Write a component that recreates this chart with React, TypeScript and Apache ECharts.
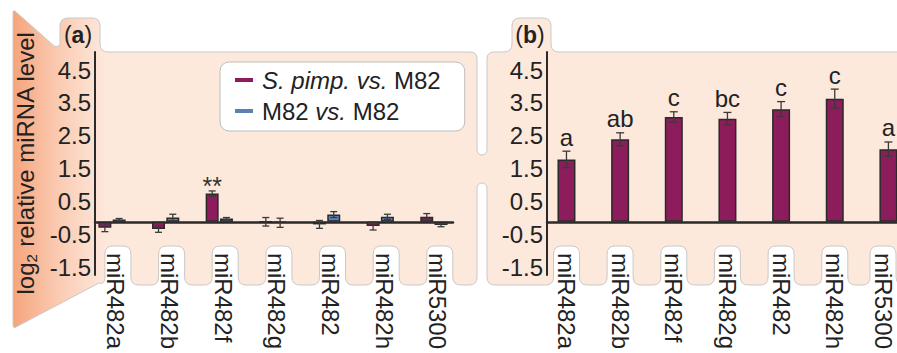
import React, { useEffect, useRef } from 'react';
import * as echarts from 'echarts';

// ---------- data ----------
const categories = ['miR482a', 'miR482b', 'miR482f', 'miR482g', 'miR482', 'miR482h', 'miR5300'];
const yTickValues = [-1.5, -0.5, 0.5, 1.5, 2.5, 3.5, 4.5];
const seriesNames = ['S. pimp. vs. M82', 'M82 vs. M82'];
const pimpVals = [-0.18, -0.22, 0.86, 0.0, -0.08, -0.13, 0.15];
const pimpErr = [0.12, 0.1, 0.08, 0.13, 0.12, 0.12, 0.1];
const pimpSig = ['', '', '**', '', '', '', ''];
const m82Vals = [0.07, 0.13, 0.1, -0.03, 0.22, 0.15, -0.1];
const m82Err = [0.03, 0.1, 0.03, 0.14, 0.09, 0.08, 0.05];
const panelBVals = [1.9, 2.51, 3.19, 3.14, 3.43, 3.75, 2.21];
const panelBErr = [0.25, 0.2, 0.16, 0.19, 0.23, 0.29, 0.22];
const panelBLetters = ['a', 'ab', 'c', 'bc', 'c', 'c', 'a'];

// ---------- layout / style ----------
const FONT = "'Liberation Sans', Arial, Helvetica, sans-serif";
const TXT = '#222222';
const PURPLE = '#8d1c5d';
const BLUE = '#5b80b6';
const EDGE = '#2a2a2a';
const A = { left: 95, width: 358, min: -0.317, max: 6.356 };
const B = { left: 547, width: 350, min: -0.363, max: 6.16 };
const Y = { top: 52, height: 223, min: -1.62, max: 5.17 };
const LABEL_SHIFT_A = 0.07;
const TAB_SHIFT_A = 0.11;
const LAST_PULL_B = 0.1; // last label in panel (b) is nudged left to stay inside the page

const labelPosB = (i: number) => (i === categories.length - 1 ? i - LAST_PULL_B : i);
const xA = (v: number) => A.left + ((v - A.min) / (A.max - A.min)) * A.width;
const xB = (v: number) => B.left + ((v - B.min) / (B.max - B.min)) * B.width;

function buildBgPath(): string {
  const T = 246, Bt = 285, hw = 13, r = 8;
  const f = (n: number) => n.toFixed(1);
  let d = 'M13 13 Q13 9 16 12 L53 45 Q57 49 60 44 L60 26 Q60 18 68 18 L92 18 Q100 18 100 26 L100 44 Q100 52 108 52 ';
  d += 'L470 52 Q477 52 477 59 L477 150 A5 5 0 0 0 487 150 L487 59 Q487 52 494 52 ';
  d += 'L504 52 Q512 52 512 44 L512 26 Q512 18 520 18 L543 18 Q551 18 551 26 L551 44 Q551 52 559 52 L905 52 L905 285 ';
  const tab = (c: number, last: boolean) => {
    let s = `L${f(c + hw + r)} ${Bt} Q${f(c + hw)} ${Bt} ${f(c + hw)} ${Bt - r} L${f(c + hw)} ${T + r} Q${f(c + hw)} ${T} ${f(c + hw - r)} ${T} `;
    s += `L${f(c - hw + r)} ${T} Q${f(c - hw)} ${T} ${f(c - hw)} ${T + r} L${f(c - hw)} ${Bt - r} `;
    if (!last) s += `Q${f(c - hw)} ${Bt} ${f(c - hw - r)} ${Bt} `;
    else s += `Q${f(c - hw)} ${Bt} ${f(c - hw - 6)} ${Bt - 2} `;
    return s;
  };
  for (let i = categories.length - 1; i >= 0; i--) d += tab(xB(labelPosB(i)), false);
  d += `L495 ${Bt} Q487 ${Bt} 487 ${Bt - 8} L487 188 A5 5 0 0 0 477 188 L477 ${Bt - 8} Q477 ${Bt} 469 ${Bt} `;
  for (let i = categories.length - 1; i >= 0; i--) d += tab(xA(i + TAB_SHIFT_A), i === 0);
  d += 'L16 327 Q13 329 13 324 Z';
  return d;
}

function errRenderer(offset: number, cap: number, labels: string[], labelKind: 'sig' | 'letter') {
  return (params: any, api: any) => {
    const x = api.value(0);
    const v = api.value(1);
    const e = api.value(2);
    const top = api.coord([x, v + e]);
    const bot = api.coord([x, v - e]);
    const cx = top[0] + offset;
    const st = { stroke: '#3a3a3a', lineWidth: 1.3 };
    const children: any[] = [
      { type: 'line', shape: { x1: cx, y1: top[1], x2: cx, y2: bot[1] }, style: st },
      { type: 'line', shape: { x1: cx - cap, y1: top[1], x2: cx + cap, y2: top[1] }, style: st },
      { type: 'line', shape: { x1: cx - cap, y1: bot[1], x2: cx + cap, y2: bot[1] }, style: st },
    ];
    const lab = labels[params.dataIndex];
    if (lab) {
      children.push({
        type: 'text',
        x: cx,
        y: labelKind === 'sig' ? top[1] - 5 : top[1] - 2,
        style: {
          text: lab,
          fontSize: labelKind === 'sig' ? 25 : 24,
          fontFamily: FONT,
          fill: labelKind === 'sig' ? '#333' : TXT,
          align: 'center',
          verticalAlign: labelKind === 'sig' ? 'middle' : 'bottom',
        },
      });
    }
    return { type: 'group', children };
  };
}

function buildOption(): any {
  const axisLineStyle = { color: EDGE, width: 2.5 };
  const yAxisCommon = {
    type: 'value',
    min: Y.min,
    max: Y.max,
    axisLine: { show: true, onZero: false, lineStyle: { color: EDGE, width: 2 } },
    axisTick: { show: false },
    splitLine: { show: false },
    axisLabel: {
      customValues: yTickValues,
      formatter: (v: number) => v.toFixed(1),
      fontSize: 24,
      fontFamily: FONT,
      color: TXT,
      margin: 4,
      verticalAlign: 'bottom',
      lineHeight: 8,
    },
  };
  const xAxisCommon = {
    type: 'value',
    axisLine: { show: true, onZero: true, lineStyle: axisLineStyle },
    axisTick: { show: false },
    splitLine: { show: false },
  };
  const catLabel = {
    rotate: -90,
    fontSize: 24,
    fontFamily: FONT,
    color: TXT,
    margin: -22,
  };
  return {
    animation: false,
    backgroundColor: '#ffffff',
    grid: [
      { left: A.left, top: Y.top, width: A.width, height: Y.height, outerBoundsMode: 'none', containLabel: false },
      { left: B.left, top: Y.top, width: B.width, height: Y.height, outerBoundsMode: 'none', containLabel: false },
    ],
    xAxis: [
      {
        ...xAxisCommon,
        gridIndex: 0,
        min: A.min,
        max: A.max,
        axisLabel: {
          ...catLabel,
          customValues: categories.map((_, i) => i + LABEL_SHIFT_A),
          formatter: (v: number) => categories[Math.round(v)] ?? '',
        },
      },
      {
        ...xAxisCommon,
        gridIndex: 1,
        min: B.min,
        max: B.max,
        axisLabel: {
          ...catLabel,
          customValues: categories.map((_, i) => labelPosB(i)),
          formatter: (v: number) => categories[Math.round(v)] ?? '',
        },
      },
    ],
    yAxis: [
      { ...yAxisCommon, gridIndex: 0 },
      { ...yAxisCommon, gridIndex: 1 },
    ],
    legend: {
      data: seriesNames,
      orient: 'vertical',
      left: 220,
      top: 62,
      backgroundColor: '#ffffff',
      borderColor: '#bdbdbd',
      borderWidth: 1,
      borderRadius: 9,
      padding: [6, 24, 8, 15],
      itemWidth: 18,
      itemHeight: 4,
      itemGap: 7,
      icon: 'rect',
      itemStyle: { borderWidth: 0 },
      textStyle: {
        fontSize: 24,
        fontFamily: FONT,
        color: TXT,
        padding: [0, 0, 0, 4],
        rich: { i: { fontSize: 24, fontFamily: FONT, fontStyle: 'italic', color: TXT } },
      },
      formatter: (name: string) =>
        name === seriesNames[0] ? '{i|S. pimp.} {i|vs.} M82' : 'M82 {i|vs.} M82',
    },
    graphic: [
      {
        type: 'bgShape',
        x: 0,
        y: 0,
        scaleX: 1,
        scaleY: 1,
        z: -10,
        silent: true,
        style: {
          fill: new echarts.graphic.LinearGradient(13, 0, 105, 0, [
            { offset: 0, color: '#f5a47c' },
            { offset: 0.45, color: '#fac8ae' },
            { offset: 1, color: '#fde8dc' },
          ], true),
          stroke: '#c9c9c9',
          lineWidth: 1,
        },
      },
      {
        type: 'text',
        x: 78,
        y: 35,
        z: 5,
        style: {
          text: '({b|a})',
          fontSize: 23,
          fontFamily: FONT,
          fill: TXT,
          align: 'center',
          verticalAlign: 'middle',
          rich: { b: { fontSize: 23, fontWeight: 'bold', fontFamily: FONT, fill: TXT } },
        },
      },
      {
        type: 'text',
        x: 530,
        y: 35,
        z: 5,
        style: {
          text: '({b|b})',
          fontSize: 23,
          fontFamily: FONT,
          fill: TXT,
          align: 'center',
          verticalAlign: 'middle',
          rich: { b: { fontSize: 23, fontWeight: 'bold', fontFamily: FONT, fill: TXT } },
        },
      },
      {
        type: 'text',
        x: 25,
        y: 163,
        z: 5,
        rotation: Math.PI / 2,
        style: {
          text: '{m|log}{s|2}{m| relative miRNA level}',
          align: 'center',
          verticalAlign: 'middle',
          rich: {
            m: { fontSize: 24, lineHeight: 24, verticalAlign: 'top', fontFamily: FONT, fill: TXT },
            s: { fontSize: 15, lineHeight: 15, padding: [11, 0, 0, 0], verticalAlign: 'top', fontFamily: FONT, fill: TXT },
          },
        },
      },
    ],
    series: [
      {
        name: seriesNames[0],
        type: 'bar',
        xAxisIndex: 0,
        yAxisIndex: 0,
        barWidth: 13,
        barGap: '10%',
        itemStyle: { color: PURPLE, borderColor: EDGE, borderWidth: 1.5 },
        data: pimpVals.map((v, i) => [i, v]),
      },
      {
        name: seriesNames[1],
        type: 'bar',
        xAxisIndex: 0,
        yAxisIndex: 0,
        barWidth: 13,
        barGap: '10%',
        itemStyle: { color: BLUE, borderColor: EDGE, borderWidth: 1.5 },
        data: m82Vals.map((v, i) => [i, v]),
      },
      {
        type: 'custom',
        xAxisIndex: 0,
        yAxisIndex: 0,
        z: 5,
        encode: { x: 0, y: 1 },
        renderItem: errRenderer(-7.15, 3.5, pimpSig, 'sig'),
        data: pimpVals.map((v, i) => [i, v, pimpErr[i]]),
      },
      {
        type: 'custom',
        xAxisIndex: 0,
        yAxisIndex: 0,
        z: 5,
        encode: { x: 0, y: 1 },
        renderItem: errRenderer(7.15, 3.5, [], 'sig'),
        data: m82Vals.map((v, i) => [i, v, m82Err[i]]),
      },
      {
        type: 'bar',
        name: 'panelB',
        xAxisIndex: 1,
        yAxisIndex: 1,
        barWidth: 18,
        itemStyle: { color: PURPLE, borderColor: EDGE, borderWidth: 1.5 },
        data: panelBVals.map((v, i) => [i, v]),
      },
      {
        type: 'custom',
        xAxisIndex: 1,
        yAxisIndex: 1,
        z: 5,
        encode: { x: 0, y: 1 },
        renderItem: errRenderer(0, 4, panelBLetters, 'letter'),
        data: panelBVals.map((v, i) => [i, v, panelBErr[i]]),
      },
    ],
  };
}

export default function App() {
  const ref = useRef<HTMLDivElement>(null);
  useEffect(() => {
    if (!ref.current) return;
    echarts.graphic.registerShape('bgShape', echarts.graphic.extendPath(buildBgPath(), {}) as any);
    const chart = echarts.init(ref.current, null, { renderer: 'svg' });
    chart.setOption(buildOption());
    return () => chart.dispose();
  }, []);
  return (
    <div
      ref={ref}
      style={{ position: 'absolute', left: 0, top: 0, width: 897, height: 353 }}
    />
  );
}
